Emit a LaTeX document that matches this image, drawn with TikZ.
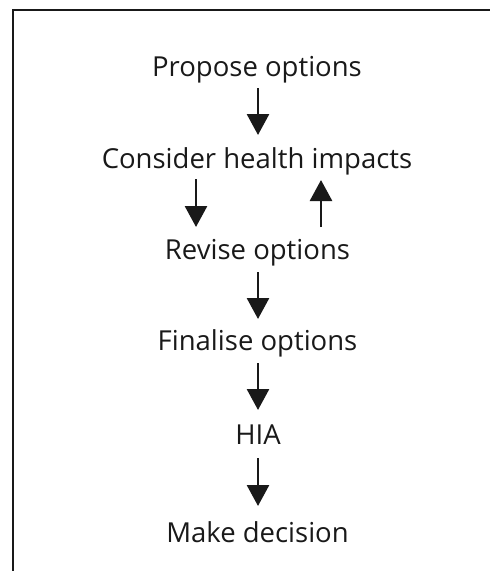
\documentclass[tikz,border=0pt]{standalone}
\usepackage{fontspec}
\setmainfont{Open Sans}
\usetikzlibrary{arrows.meta,calc}
\begin{document}
\begin{tikzpicture}[x=1pt,y=-1pt,
  lbl/.style={anchor=base,inner sep=0pt,font=\fontsize{27.5}{32}\selectfont,text=black!90},
  arr/.style={line width=2.8pt,draw=black!90,-{Triangle[width=22pt,length=21pt]}},
  frame/.style={line width=2pt,draw=black!90}]
\useasboundingbox (0,0) rectangle (490,571);
\draw[frame] (490,10) -- (13,10) -- (13,571);
\node[lbl] (p) at (257,76) {Propose options};
\node[lbl] (c) at (257,168) {Consider health impacts};
\node[lbl] (r) at (257.5,259) {Revise options};
\node[lbl] (f) at (257.5,350) {Finalise options};
\node[lbl] (h) at (258,444) {HIA};
\node[lbl] (m) at (257.5,542) {Make decision};
\coordinate (p1) at ($(p.base)+(1,12)$);
\coordinate (c1) at ($(c.base)+(1,-33)$);
\draw[arr] (p1) -- (c1);
\draw[arr] ($(c.base)+(-61,11)$) -- ($(r.base)+(-61.5,-32)$);
\draw[arr] ($(r.base)+(63.5,-32)$) -- ($(c.base)+(64,12)$);
\draw[arr] ($(r.base)+(0.5,13)$) -- ($(f.base)+(0.5,-31)$);
\draw[arr] ($(f.base)+(0.5,13)$) -- ($(h.base)+(0,-34)$);
\draw[arr] ($(h.base)+(0,14)$) -- ($(m.base)+(0.5,-36)$);
\end{tikzpicture}
\end{document}
